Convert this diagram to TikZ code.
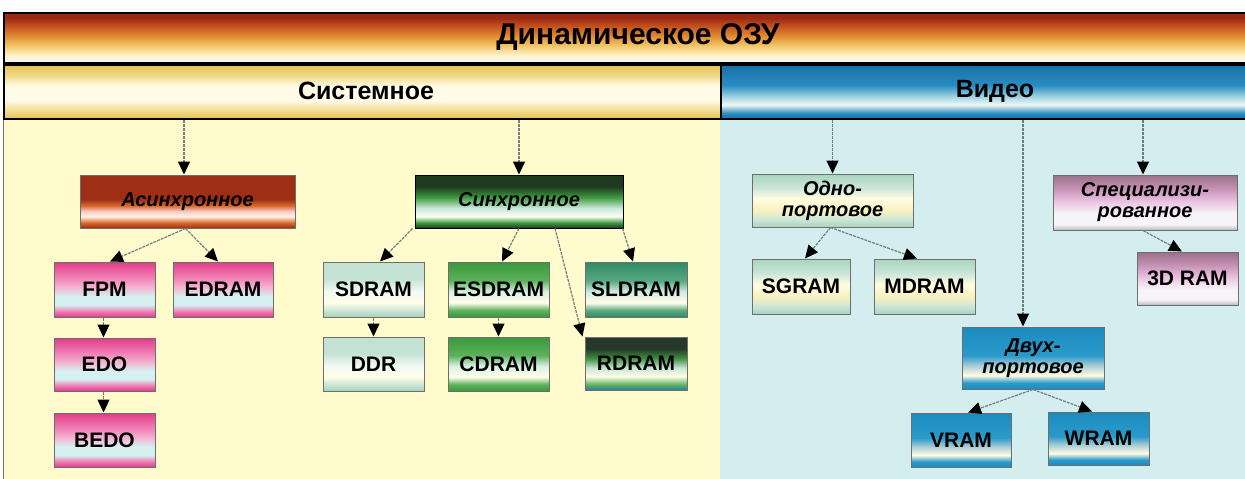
\documentclass[tikz,border=0pt]{standalone}
\usepackage{fontspec}
\setmainfont{Liberation Sans}
\usetikzlibrary{arrows.meta}
% colours
\definecolor{t1}{HTML}{9A2A12}\definecolor{t2}{HTML}{C2501E}\definecolor{t3}{HTML}{E08A30}
\definecolor{t4}{HTML}{F2C868}\definecolor{t5}{HTML}{FFF4D0}\definecolor{t6}{HTML}{EEF6F0}
\definecolor{s1}{HTML}{E4C058}\definecolor{s2}{HTML}{F2DA88}\definecolor{s3}{HTML}{FFFBE8}
\definecolor{v1}{HTML}{1870A8}\definecolor{v2}{HTML}{2A8CC2}\definecolor{v3}{HTML}{9CD0E0}\definecolor{v4}{HTML}{F0F8F4}
\definecolor{a1}{HTML}{9E2E16}\definecolor{a2}{HTML}{D86A2C}\definecolor{a3}{HTML}{F6C8C0}\definecolor{a4}{HTML}{FFF2E4}
\definecolor{p1}{HTML}{E23C88}\definecolor{p2}{HTML}{F07AB2}\definecolor{p3}{HTML}{F4B4D2}\definecolor{p4}{HTML}{D4F0F0}
\definecolor{g1}{HTML}{1E3A1E}\definecolor{g2}{HTML}{3E9A3E}\definecolor{g3}{HTML}{C8E6D8}\definecolor{g4}{HTML}{FFFFF4}
\definecolor{l1}{HTML}{A8D0B8}\definecolor{l2}{HTML}{C4E2D4}\definecolor{l3}{HTML}{F2FAF6}\definecolor{l4}{HTML}{FFFDE8}
\definecolor{e1}{HTML}{3A983A}\definecolor{e2}{HTML}{5CB25C}\definecolor{e3}{HTML}{DDF0E6}
\definecolor{d1}{HTML}{2E8A66}\definecolor{d2}{HTML}{58A880}\definecolor{d3}{HTML}{D4EAE2}
\definecolor{r1}{HTML}{26382A}\definecolor{r2}{HTML}{3E8E3E}\definecolor{r3}{HTML}{C8E4D4}\definecolor{r4}{HTML}{2C78A8}
\definecolor{o1}{HTML}{A8D4BC}\definecolor{o2}{HTML}{CBE6DA}\definecolor{o3}{HTML}{FFFCE0}\definecolor{o4}{HTML}{F6F0C0}
\definecolor{m1}{HTML}{9A7088}\definecolor{m2}{HTML}{C894B8}\definecolor{m3}{HTML}{ECC8E4}\definecolor{m4}{HTML}{F6F4F6}\definecolor{m5}{HTML}{B8B8C4}
\definecolor{b1}{HTML}{1C8CC0}\definecolor{b2}{HTML}{2A9ACA}\definecolor{b3}{HTML}{A8CCD4}\definecolor{b4}{HTML}{FFFCE4}
\definecolor{leftbg}{HTML}{FFFBCC}\definecolor{rightbg}{HTML}{D4EEF0}
\definecolor{bordc}{HTML}{6E6E6E}\definecolor{arrc}{HTML}{6E8080}
% shadings (path box maps to 25bp..75bp; bottom first)
\pgfdeclareverticalshading{titlesh}{100bp}{color(0bp)=(t6);color(25bp)=(t6);color(32bp)=(t5);color(42bp)=(t4);color(52bp)=(t3);color(62bp)=(t2);color(70bp)=(t1);color(75bp)=(t1);color(100bp)=(t1)}
\pgfdeclareverticalshading{syssh}{100bp}{color(0bp)=(s1);color(25bp)=(s1);color(32bp)=(s2);color(42bp)=(s3);color(55bp)=(s3);color(65bp)=(s2);color(75bp)=(s1);color(100bp)=(s1)}
\pgfdeclareverticalshading{vidsh}{100bp}{color(0bp)=(v1);color(25bp)=(v1);color(30bp)=(v2);color(38bp)=(v4);color(46bp)=(v3);color(56bp)=(v2);color(75bp)=(v1);color(100bp)=(v1)}
\pgfdeclareverticalshading{asynsh}{100bp}{color(0bp)=(a1);color(25bp)=(a1);color(30bp)=(a2);color(36bp)=(a4);color(41bp)=(a3);color(46bp)=(a2);color(52bp)=(a1);color(75bp)=(a1);color(100bp)=(a1)}
\pgfdeclareverticalshading{pinksh}{100bp}{color(0bp)=(p1);color(25bp)=(p1);color(30bp)=(p2);color(36bp)=(p4);color(44bp)=(p4);color(52bp)=(p3);color(62bp)=(p2);color(75bp)=(p1);color(100bp)=(p1)}
\pgfdeclareverticalshading{synsh}{100bp}{color(0bp)=(g1);color(25bp)=(g1);color(30bp)=(g2);color(36bp)=(g4);color(44bp)=(g3);color(54bp)=(g2);color(64bp)=(g1);color(75bp)=(g1);color(100bp)=(g1)}
\pgfdeclareverticalshading{sdramsh}{100bp}{color(0bp)=(l1);color(25bp)=(l1);color(30bp)=(l2);color(38bp)=(l4);color(48bp)=(l3);color(60bp)=(l2);color(75bp)=(l2);color(100bp)=(l2)}
\pgfdeclareverticalshading{esdramsh}{100bp}{color(0bp)=(e1);color(25bp)=(e1);color(31bp)=(e2);color(38bp)=(l4);color(48bp)=(e3);color(58bp)=(e2);color(75bp)=(e1);color(100bp)=(e1)}
\pgfdeclareverticalshading{sldramsh}{100bp}{color(0bp)=(d1);color(25bp)=(d1);color(31bp)=(d2);color(38bp)=(l4);color(48bp)=(d3);color(58bp)=(d2);color(75bp)=(d1);color(100bp)=(d1)}
\pgfdeclareverticalshading{rdramsh}{100bp}{color(0bp)=(r4);color(25bp)=(r4);color(30bp)=(e2);color(38bp)=(l4);color(46bp)=(r3);color(55bp)=(r2);color(64bp)=(r1);color(75bp)=(r1);color(100bp)=(r1)}
\pgfdeclareverticalshading{odnosh}{100bp}{color(0bp)=(o1);color(25bp)=(o1);color(32bp)=(o2);color(40bp)=(o4);color(52bp)=(o3);color(62bp)=(o2);color(75bp)=(o1);color(100bp)=(o1)}
\pgfdeclareverticalshading{specsh}{100bp}{color(0bp)=(m5);color(25bp)=(m5);color(30bp)=(m4);color(40bp)=(m4);color(50bp)=(m3);color(62bp)=(m2);color(75bp)=(m1);color(100bp)=(m1)}
\pgfdeclareverticalshading{dvuhsh}{100bp}{color(0bp)=(b1);color(25bp)=(b1);color(30bp)=(b2);color(36bp)=(b4);color(44bp)=(b3);color(52bp)=(b2);color(75bp)=(b1);color(100bp)=(b1)}
\tikzset{
  ramnode/.style={draw=bordc, line width=1pt, inner sep=0pt, minimum width=101pt, minimum height=55pt,
    font=\fontsize{21}{22}\selectfont\bfseries},
  catnode/.style={ramnode, align=center, font=\fontsize{20}{21}\selectfont\bfseries\itshape},
  barnode/.style={draw=black, line width=1.5pt, inner sep=0pt},
  arr/.style={draw=arrc, line width=1.2pt, dash pattern=on 3pt off 1pt,
    -{Triangle[length=13pt,width=12pt,color=black]}},
}
\begin{document}
\begin{tikzpicture}[x=1pt,y=-1pt]
\useasboundingbox (0,0) rectangle (1245,479);
\fill[white] (0,0) rectangle (1245,479);
% panels
\fill[leftbg] (3,118) rectangle (720,479);
\fill[rightbg] (720,118) rectangle (1245,479);
\draw[bordc, line width=1pt] (3,118) -- (3,479);
% bars
\node[barnode, shading=titlesh, minimum width=1250pt, minimum height=50pt, anchor=north west] (title) at (3,12) {};
\node[barnode, shading=syssh, minimum width=717pt, minimum height=54pt, anchor=north west] (sys) at (3,64) {};
\node[barnode, shading=vidsh, minimum width=530pt, minimum height=54pt, anchor=north west] (vid) at (720,64) {};
\node[font=\fontsize{30}{32}\selectfont\bfseries] (titletxt) at (638,37) {Динамическое ОЗУ};
\node[font=\fontsize{25}{27}\selectfont\bfseries] (systxt) at (366,91) {Системное};
\node[font=\fontsize{25}{27}\selectfont\bfseries] (vidtxt) at (995,91) {Видео};
% left: asynchronous
\node[catnode, shading=asynsh, minimum width=215pt, minimum height=53pt] (asyn) at (187.5,201.5) {Асинхронное};
\node[ramnode, shading=pinksh] (fpm) at (104.5,289.5) {FPM};
\node[ramnode, shading=pinksh, minimum width=100pt] (edram) at (223,289.5) {EDRAM};
\node[ramnode, shading=pinksh, minimum height=53pt] (edo) at (104.5,364.5) {EDO};
\node[ramnode, shading=pinksh, minimum height=54pt] (bedo) at (104.5,440) {BEDO};
% left: synchronous
\node[catnode, shading=synsh, draw=black, minimum width=208pt, minimum height=53pt] (syn) at (519,201.5) {Синхронное};
\node[ramnode, shading=sdramsh] (sdram) at (373.5,289.5) {SDRAM};
\node[ramnode, shading=esdramsh] (esdram) at (498.5,289.5) {ESDRAM};
\node[ramnode, shading=sldramsh, minimum width=102pt] (sldram) at (636,289.5) {SLDRAM};
\node[ramnode, shading=sdramsh, minimum height=54pt] (ddr) at (373.5,364) {DDR};
\node[ramnode, shading=esdramsh, minimum height=54pt] (cdram) at (498.5,364) {CDRAM};
\node[ramnode, shading=rdramsh, minimum width=102pt, minimum height=53pt] (rdram) at (636,363.5) {RDRAM};
% right
\node[catnode, shading=odnosh, minimum width=161pt, minimum height=53pt] (odno) at (832.5,200.5) {Одно-\\портовое};
\node[ramnode, shading=odnosh, minimum width=98pt] (sgram) at (801,286.5) {SGRAM};
\node[ramnode, shading=odnosh] (mdram) at (924.5,286.5) {MDRAM};
\node[catnode, shading=specsh, minimum width=184pt] (spec) at (1145,202.5) {Специализи-\\рованное};
\node[ramnode, shading=specsh, minimum height=53pt] (ram3d) at (1187.5,278.5) {3D RAM};
\node[catnode, shading=dvuhsh, minimum width=142pt, minimum height=62pt] (dvuh) at (1033,358) {Двух-\\портовое};
\node[ramnode, shading=dvuhsh, minimum width=100pt, minimum height=54pt] (vram) at (961,440) {VRAM};
\node[ramnode, shading=dvuhsh, minimum height=53pt] (wram) at (1098.5,438.5) {WRAM};
% connectors
\draw[arr] ([xshift=-3.5pt]asyn.north |- sys.south) -- ([xshift=-3.5pt]asyn.north);
\draw[arr] (syn.north |- sys.south) -- (syn.north);
\draw[arr] (odno.north |- vid.south) -- (odno.north);
\draw[arr] ([xshift=-2pt]spec.north |- vid.south) -- ([xshift=-2pt]spec.north);
\draw[arr] ([xshift=-10pt]dvuh.north |- vid.south) -- ([xshift=-10pt]dvuh.north);
\draw[arr] ([xshift=-2pt]asyn.south) -- ([xshift=5.5pt]fpm.north);
\draw[arr] ([xshift=-2pt]asyn.south) -- ([xshift=-5pt]edram.north);
\draw[arr] ([xshift=-1pt]fpm.south) -- ([xshift=-1pt]edo.north);
\draw[arr] ([xshift=-1pt]edo.south) -- ([xshift=-1pt]bedo.north);
\draw[arr] ([xshift=-2pt]syn.south west) -- ([xshift=6.5pt]sdram.north);
\draw[arr] (syn.south) -- ([xshift=3.5pt]esdram.north);
\draw[arr] ([xshift=36pt]syn.south) -- ([xshift=-2pt]rdram.north west);
\draw[arr] ([xshift=-1pt]syn.south east) -- ([xshift=-3pt]sldram.north);
\draw[arr] (sdram.south) -- (ddr.north);
\draw[arr] (esdram.south) -- (cdram.north);
\draw[arr] ([xshift=-2pt]odno.south) -- ([xshift=4pt]sgram.north);
\draw[arr] ([xshift=-2pt]odno.south) -- ([xshift=-7.5pt]mdram.north);
\draw[arr] ([xshift=-2pt]spec.south) -- ([xshift=-5.5pt]ram3d.north);
\draw[arr] (dvuh.south) -- ([xshift=7pt]vram.north);
\draw[arr] (dvuh.south) -- ([xshift=-6.5pt]wram.north);
\end{tikzpicture}
\end{document}
